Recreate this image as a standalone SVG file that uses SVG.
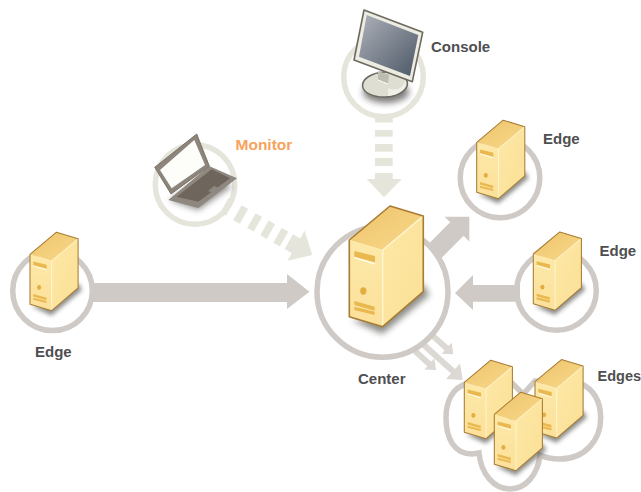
<svg xmlns="http://www.w3.org/2000/svg" xmlns:xlink="http://www.w3.org/1999/xlink" width="641" height="492" viewBox="0 0 641 492">
<style>
.ring{fill:none;stroke:#cfcac5;stroke-width:5.5}
.ring2{fill:none;stroke:#e6e5dc;stroke-width:5.5}
.lbl{font-family:"Liberation Sans",Arial,sans-serif;font-weight:bold;font-size:15px;fill:#4f4f51}
.arr{fill:#cfcac5}
.arr2{fill:#dcd8d4}
.dash{fill:#e6e5dc}
</style>
<defs>
<filter id="blur" x="-30%" y="-30%" width="160%" height="160%"><feGaussianBlur stdDeviation="3"/></filter>
<linearGradient id="top" x1="0" y1="0" x2="1" y2="1"><stop offset="0" stop-color="#eec26a"/><stop offset="1" stop-color="#f8da8c"/></linearGradient>
<linearGradient id="front" x1="0" y1="0" x2="0" y2="1"><stop offset="0" stop-color="#fde9a8"/><stop offset="1" stop-color="#fbe09a"/></linearGradient>
<linearGradient id="side" x1="0" y1="0" x2="1" y2="1"><stop offset="0" stop-color="#fde8a6"/><stop offset="1" stop-color="#fbe096"/></linearGradient>
<linearGradient id="scr" x1="0" y1="0" x2="1" y2="1"><stop offset="0" stop-color="#aeb1b9"/><stop offset="1" stop-color="#4c5866"/></linearGradient>
<g id="server">
<polygon points="2,80 33,94 80,55 74,44 30,78" fill="#33302c" opacity=".55" filter="url(#blur)"/>
<polygon points="0,0 40.7,-34 74,-24 33.4,10" fill="url(#top)"/>
<polygon points="0,0 33.4,10 33.4,86.7 0,76.7" fill="url(#front)"/>
<polygon points="33.4,10 74,-24 74,51.7 33.4,86.7" fill="url(#side)"/>
<path d="M33.4,10V86.7M33.4,10L74,-24" stroke="#fff8d8" stroke-width="1.2" fill="none"/>
<polygon points="0,0 40.7,-34 74,-24 74,51.7 33.4,86.7 0,76.7" fill="none" stroke="#a87b32" stroke-width="1.6" stroke-linejoin="round"/>
<polygon points="5,11 25.7,16 25.7,22.3 5,16.7" fill="#e9b84e"/>
<line x1="5" y1="17.5" x2="25.7" y2="24" stroke="#fff" stroke-width="1.2"/>
<ellipse cx="14" cy="51" rx="3.1" ry="3.7" fill="#e4ad3f"/>
<polygon points="5,61 25.3,66.7 25.3,70.7 5,65" fill="#e9b84e"/>
<polygon points="5,66.7 25.3,71.7 25.3,75 5,70" fill="#e9b84e"/>
</g>
</defs>

<g id="connectors">
<polygon class="arr" points="92,283 287,283 287,274 309.5,291.7 287,309 287,302 92,302"/>
<polygon class="arr" points="520,285 473,285 473,275 455,293 473,310 473,301.7 520,301.7"/>
<path class="arr" transform="translate(469.3,216.7) rotate(-45)" d="M0,0L-17.5,-17.5V-9.5H-50V9.5H-17.5V17.5Z"/>
<g class="arr2">
<path transform="translate(462.7,380) rotate(42)" d="M0,0L-13,-10.5V-3H-56V3H-13V10.5Z"/>
<path transform="translate(453.3,354.3) rotate(42)" d="M0,0L-9,-7.5V-3H-29V3H-9V7.5Z"/>
<path transform="translate(436,370) rotate(42)" d="M0,0L-9,-7.5V-3H-29V3H-9V7.5Z"/>
</g>
<g class="dash">
<rect x="375" y="118" width="17.7" height="4.5"/>
<rect x="375" y="130" width="17.7" height="6.7"/>
<rect x="375" y="144" width="17.7" height="7.7"/>
<rect x="375" y="158" width="17.7" height="8"/>
<polygon points="375,173 392.7,173 392.7,179 401.7,179 384,197.3 366.7,179 375,179"/>
<g transform="translate(312.3,255) rotate(29.5)">
<polygon points="0,0 -18.7,-17.3 -18.7,-8.5 -27,-8.5 -27,8.5 -18.7,8.5 -18.7,17.3"/>
<rect x="-40" y="-8.5" width="7.5" height="17"/>
<rect x="-55" y="-8.5" width="7.5" height="17"/>
<rect x="-70" y="-8.5" width="7.5" height="17"/>
<rect x="-86" y="-8.5" width="7.5" height="17"/>
<rect x="-101" y="-8.5" width="6.5" height="17"/>
</g>
</g>
</g>

<g id="node-center">
<circle class="ring" cx="382.5" cy="291.7" r="65.5"/>
<use xlink:href="#server" href="#server" transform="translate(349.3,240)"/>
<text class="lbl" x="358" y="383.5">Center</text>
</g>

<g id="node-edge-left">
<circle class="ring" cx="52.5" cy="290.8" r="39.8"/>
<use xlink:href="#server" href="#server" transform="translate(30,254.3) scale(.65)"/>
<text class="lbl" x="35" y="356.7">Edge</text>
</g>

<g id="node-edge-top">
<circle class="ring" cx="500" cy="178" r="39.8"/>
<use xlink:href="#server" href="#server" transform="translate(476.7,142.3) scale(.65)"/>
<text class="lbl" x="543" y="143.5">Edge</text>
</g>

<g id="node-edge-right">
<circle class="ring" cx="556.5" cy="290.5" r="39.8"/>
<use xlink:href="#server" href="#server" transform="translate(533.3,254) scale(.65)"/>
<text class="lbl" x="599.5" y="256">Edge</text>
</g>

<g id="node-edges">
<path d="M466,384C452,388 446,402 446,418C446,438 454,454 472,454L479,453C481,474 494,489 510,489C526,489 538,474 540,455C546,458 552,459 560,459C585,459 600.7,440 600.7,418C600.7,402 595,390 580,383L535,381L525,392Q523,394 521,392L511,382Z" fill="none" stroke="#cfcac5" stroke-width="5.5"/>
<use xlink:href="#server" href="#server" transform="translate(464.3,382.3) scale(.65)"/>
<use xlink:href="#server" href="#server" transform="translate(535,381.7) scale(.65)"/>
<use xlink:href="#server" href="#server" transform="translate(494.3,414.3) scale(.65)"/>
<text class="lbl" x="597.5" y="380.7" style="font-size:14.5px">Edges</text>
</g>

<g id="node-console">
<circle class="ring2" cx="383.5" cy="77" r="39.8"/>
<ellipse cx="386" cy="92" rx="23" ry="11" fill="#2e2c29" opacity=".6" filter="url(#blur)"/>
<ellipse cx="385" cy="84.5" rx="22.5" ry="12.5" fill="#dfded2" stroke="#6b6960" stroke-width="1.5" transform="rotate(-3 385 84.5)"/>
<path d="M388,88C396,92 404,88 405,80C408,86 402,95 388,96Z" fill="#f1f0e8"/>
<polygon points="378,71 389,75 388,84 378,80" fill="#bdbcb0"/>
<line x1="378" y1="80" x2="388" y2="84" stroke="#fff" stroke-width="1"/>
<polygon points="364,10 422.7,32.3 412.3,81.7 354,60" fill="#edece2" stroke="#6c695f" stroke-width="1.6" stroke-linejoin="round"/>
<polygon points="366.7,15 418.3,35 410,76 359,56.7" fill="url(#scr)"/>
<text class="lbl" x="431" y="52">Console</text>
</g>

<g id="node-monitor">
<circle class="ring2" cx="195" cy="184.5" r="39.8"/>
<polygon points="170,200 198,210 232,186 208,176" fill="#2e2c29" opacity=".55" filter="url(#blur)"/>
<polygon points="168.3,200 209,166 237,178.3 198.3,208" fill="#8f8880"/>
<polygon points="176.7,196.7 211.7,169.3 230,178.3 198.3,201.7" fill="#6e665c"/>
<polygon points="208,191 214,186 219,188 213,193" fill="#8f887f"/>
<polygon points="154.7,167.3 196.7,134 209.3,166 171,194" fill="#8d857c" stroke="#7b746b" stroke-width="1" stroke-linejoin="round"/>
<polygon points="160,170 194.3,140 205,165 171.7,188.3" fill="#fdfdfa"/>
<text class="lbl" x="235.5" y="150" style="fill:#f7a35c;font-size:15.5px">Monitor</text>
</g>
</svg>
